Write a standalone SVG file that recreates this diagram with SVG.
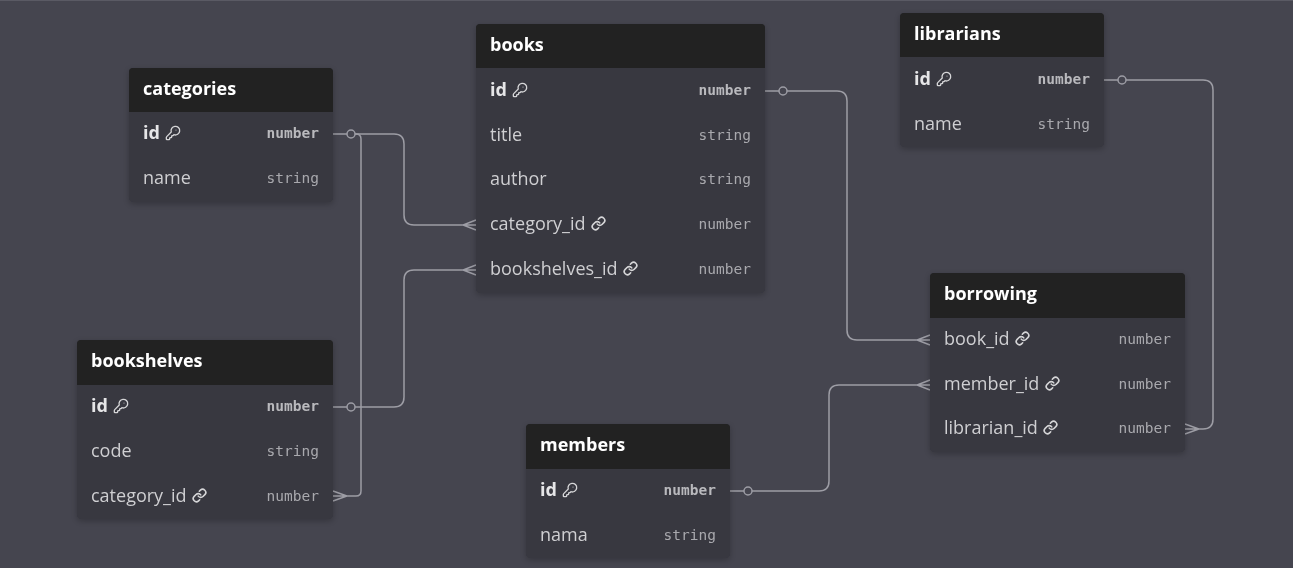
<svg xmlns="http://www.w3.org/2000/svg" width="1293" height="568" viewBox="0 0 1293 568">
<defs>
<style>
.bg{fill:#45454f}
.body{fill:#37373f}
.head{fill:#222222}
.title{font-family:"Open Sans","Noto Sans",sans-serif;font-weight:700;font-size:18px;fill:#ffffff}
.f{font-family:"Open Sans","Noto Sans",sans-serif;font-size:18px;fill:#cfcfd2}
.pk{font-family:"Open Sans","Noto Sans",sans-serif;font-size:18px;font-weight:700;fill:#e6e6e8}
.t{font-family:"DejaVu Sans Mono","Liberation Mono",monospace;font-size:14.5px;fill:#a9a9ae;text-anchor:end}
.tb{font-family:"DejaVu Sans Mono","Liberation Mono",monospace;font-size:14.5px;font-weight:700;fill:#b9b9bd;text-anchor:end}
.ic{fill:none;stroke:#d6d6d8;stroke-width:2;stroke-linecap:round;stroke-linejoin:round}
.icl{fill:none;stroke:#d6d6d8;stroke-width:2.6;stroke-linecap:round;stroke-linejoin:round}
.ln{fill:none;stroke:#9d9da5;stroke-width:1.5}
.dot{fill:#45454f;stroke:#9d9da5;stroke-width:1.5}
</style>
<filter id="sh" x="-10%" y="-10%" width="120%" height="130%">
<feDropShadow dx="0" dy="2" stdDeviation="3" flood-color="#000" flood-opacity="0.25"/>
</filter>
<symbol id="key" viewBox="0 0 24 24">
<path class="ic" d="M2.586 17.414A2 2 0 0 0 2 18.828V21a1 1 0 0 0 1 1h3a1 1 0 0 0 1-1v-1a1 1 0 0 1 1-1h1a1 1 0 0 0 1-1v-1a1 1 0 0 1 1-1h.172a2 2 0 0 0 1.414-.586l.814-.814a6.5 6.5 0 1 0-4-4z"/>
<circle cx="16.5" cy="7.5" r="0.8" fill="#d6d6d8"/>
</symbol>
<symbol id="link" viewBox="0 0 24 24">
<path class="icl" d="M10 13a5 5 0 0 0 7.54.54l3-3a5 5 0 0 0-7.07-7.07l-1.72 1.71"/>
<path class="icl" d="M14 11a5 5 0 0 0-7.54-.54l-3 3a5 5 0 0 0 7.07 7.07l1.71-1.71"/>
</symbol>
</defs>
<rect class="bg" x="0" y="0" width="1293" height="568"/>
<line x1="0" y1="0.5" x2="1293" y2="0.5" stroke="#5a5a64" stroke-width="1"/>

<g id="connectors">
<path class="ln" d="M333,134 H347 M355,134 H394 Q404,134 404,144 V215 Q404,225 414,225 H476 M476,220 L463,225 L476,230"/>
<circle class="dot" cx="351" cy="134" r="4"/>
<path class="ln" d="M355,134 H356 Q361,134 361,139 V491 Q361,496 356,496 H333 M333,491 L347,496 L333,501"/>
<path class="ln" d="M333,407 H347 M355,407 H394 Q404,407 404,397 V280 Q404,270 414,270 H476 M476,265 L463,270 L476,275"/>
<circle class="dot" cx="351" cy="407" r="4"/>
<path class="ln" d="M765,91 H779 M787,91 H837 Q847,91 847,101 V330 Q847,340 857,340 H930 M930,335 L917,340 L930,345"/>
<circle class="dot" cx="783" cy="91" r="4"/>
<path class="ln" d="M730,491 H744 M752,491 H819 Q829,491 829,481 V395 Q829,385 839,385 H930 M930,380 L917,385 L930,390"/>
<circle class="dot" cx="748" cy="491" r="4"/>
<path class="ln" d="M1104,80 H1118 M1126,80 H1203 Q1213,80 1213,90 V419 Q1213,429 1203,429 H1185 M1185,424 L1199,429 L1185,434"/>
<circle class="dot" cx="1122" cy="80" r="4"/>
</g>

<g id="categories" filter="url(#sh)">
<rect class="body" x="129" y="68" width="204" height="134" rx="4"/>
<path class="head" d="M133,68 H329 A4,4 0 0 1 333,72 V112 H129 V72 A4,4 0 0 1 133,68 Z"/>
<text class="title" x="143" y="95">categories</text>
<text class="pk" x="143" y="139">id</text><use href="#key" x="165" y="125" width="16" height="16"/>
<text class="tb" x="319" y="138">number</text>
<text class="f" x="143" y="184">name</text>
<text class="t" x="319" y="183">string</text>
</g>

<g id="books" filter="url(#sh)">
<rect class="body" x="476" y="24" width="289" height="269" rx="4"/>
<path class="head" d="M480,24 H761 A4,4 0 0 1 765,28 V68 H476 V28 A4,4 0 0 1 480,24 Z"/>
<text class="title" x="490" y="51">books</text>
<text class="pk" x="490" y="96">id</text><use href="#key" x="512" y="82" width="16" height="16"/>
<text class="tb" x="751" y="95">number</text>
<text class="f" x="490" y="141">title</text>
<text class="t" x="751" y="140">string</text>
<text class="f" x="490" y="185">author</text>
<text class="t" x="751" y="184">string</text>
<text class="f" x="490" y="230">category_id</text><use href="#link" x="591" y="216" width="15" height="15"/>
<text class="t" x="751" y="229">number</text>
<text class="f" x="490" y="275">bookshelves_id</text><use href="#link" x="623" y="261" width="15" height="15"/>
<text class="t" x="751" y="274">number</text>
</g>

<g id="librarians" filter="url(#sh)">
<rect class="body" x="900" y="13" width="204" height="134" rx="4"/>
<path class="head" d="M904,13 H1100 A4,4 0 0 1 1104,17 V57 H900 V17 A4,4 0 0 1 904,13 Z"/>
<text class="title" x="914" y="40">librarians</text>
<text class="pk" x="914" y="85">id</text><use href="#key" x="936" y="71" width="16" height="16"/>
<text class="tb" x="1090" y="84">number</text>
<text class="f" x="914" y="130">name</text>
<text class="t" x="1090" y="129">string</text>
</g>

<g id="borrowing" filter="url(#sh)">
<rect class="body" x="930" y="273" width="255" height="179" rx="4"/>
<path class="head" d="M934,273 H1181 A4,4 0 0 1 1185,277 V318 H930 V277 A4,4 0 0 1 934,273 Z"/>
<text class="title" x="944" y="300">borrowing</text>
<text class="f" x="944" y="345">book_id</text><use href="#link" x="1015" y="331" width="15" height="15"/>
<text class="t" x="1171" y="344">number</text>
<text class="f" x="944" y="390">member_id</text><use href="#link" x="1045" y="376" width="15" height="15"/>
<text class="t" x="1171" y="389">number</text>
<text class="f" x="944" y="434">librarian_id</text><use href="#link" x="1043" y="420" width="15" height="15"/>
<text class="t" x="1171" y="433">number</text>
</g>

<g id="bookshelves" filter="url(#sh)">
<rect class="body" x="77" y="340" width="256" height="179" rx="4"/>
<path class="head" d="M81,340 H329 A4,4 0 0 1 333,344 V385 H77 V344 A4,4 0 0 1 81,340 Z"/>
<text class="title" x="91" y="367">bookshelves</text>
<text class="pk" x="91" y="412">id</text><use href="#key" x="113" y="398" width="16" height="16"/>
<text class="tb" x="319" y="411">number</text>
<text class="f" x="91" y="457">code</text>
<text class="t" x="319" y="456">string</text>
<text class="f" x="91" y="502">category_id</text><use href="#link" x="192" y="488" width="15" height="15"/>
<text class="t" x="319" y="501">number</text>
</g>

<g id="members" filter="url(#sh)">
<rect class="body" x="526" y="424" width="204" height="134" rx="4"/>
<path class="head" d="M530,424 H726 A4,4 0 0 1 730,428 V469 H526 V428 A4,4 0 0 1 530,424 Z"/>
<text class="title" x="540" y="451">members</text>
<text class="pk" x="540" y="496">id</text><use href="#key" x="562" y="482" width="16" height="16"/>
<text class="tb" x="716" y="495">number</text>
<text class="f" x="540" y="541">nama</text>
<text class="t" x="716" y="540">string</text>
</g>
</svg>
